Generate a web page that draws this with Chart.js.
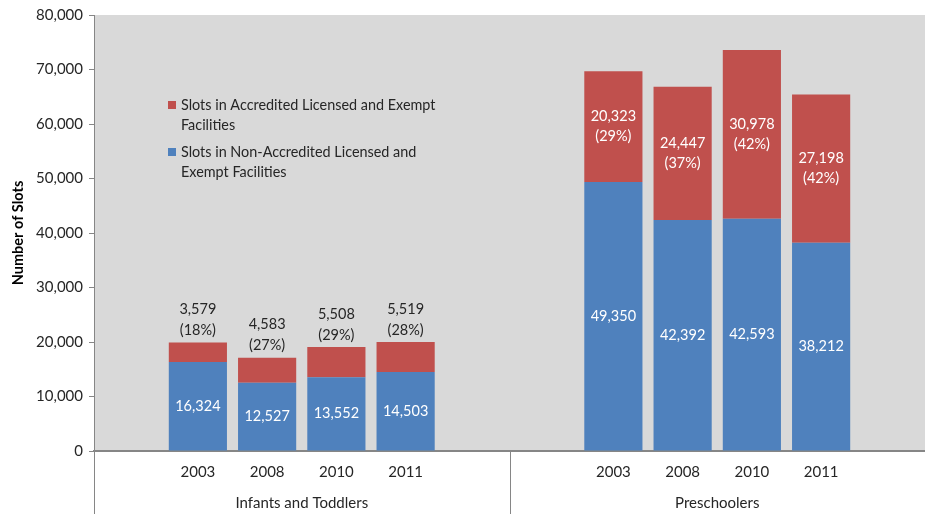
<!DOCTYPE html>
<html>
<head>
<meta charset="utf-8">
<script src="https://cdn.jsdelivr.net/npm/chart.js@4.4.1/dist/chart.umd.min.js"></script>
<style>
  html, body { margin: 0; padding: 0; background: #fff; }
  #wrap { width: 925px; height: 514px; }
</style>
</head>
<body>
<div id="wrap"><canvas id="slotsChart" width="925" height="514"></canvas></div>
<script>
// Values
const years = ['2003', '2008', '2010', '2011'];
const groups = ['Infants and Toddlers', 'Preschoolers'];

const infantsNonAccredited = [16324, 12527, 13552, 14503];
const infantsAccredited = [3579, 4583, 5508, 5519];
const infantsPct = [18, 27, 29, 28];

const preschoolNonAccredited = [49350, 42392, 42593, 38212];
const preschoolAccredited = [20323, 24447, 30978, 27198];
const preschoolPct = [29, 37, 42, 42];

const yTicks = [0, 10000, 20000, 30000, 40000, 50000, 60000, 70000, 80000];

// 12 slots: blank, 4 infant years, 2 blanks, 4 preschool years, blank
const labels = ['', ...years, '', '', ...years, ''];
const blueData = [null, ...infantsNonAccredited, null, null, ...preschoolNonAccredited, null];
const redData = [null, ...infantsAccredited, null, null, ...preschoolAccredited, null];
const pctData = [null, ...infantsPct, null, null, ...preschoolPct, null];

const FONT = 'Lato, "Open Sans", sans-serif';
const TEXT = '#262626';
const AXIS = '#868686';

const fmt = v => v.toLocaleString('en-US');

// grey plot area plus group dividers below the axis
const backdrop = {
    id: 'backdrop',
    beforeDraw(chart) {
        const { ctx, chartArea: a } = chart;
        ctx.save();
        ctx.fillStyle = '#D9D9D9';
        ctx.fillRect(a.left, a.top, a.right - a.left, a.bottom - a.top);
        ctx.restore();
    },
    afterDraw(chart) {
        const { ctx, chartArea: a } = chart;
        const step = (a.right - a.left) / labels.length;
        ctx.save();
        ctx.strokeStyle = AXIS;
        ctx.lineWidth = 1;
        [a.left, a.left + step * 6].forEach(px => {
            ctx.beginPath();
            ctx.moveTo(Math.round(px) + 0.5, a.bottom);
            ctx.lineTo(Math.round(px) + 0.5, chart.height);
            ctx.stroke();
        });
        // group labels
        ctx.fillStyle = TEXT;
        ctx.font = '15px ' + FONT;
        ctx.textAlign = 'center';
        ctx.textBaseline = 'middle';
        ctx.fillText(groups[0], a.left + step * 3, 503);
        ctx.fillText(groups[1], a.left + step * 9, 503);

        // legend inside the plot
        const legend = [
            { color: '#C0504D', lines: ['Slots in Accredited Licensed and Exempt', 'Facilities'], y: 105 },
            { color: '#4F81BD', lines: ['Slots in Non-Accredited Licensed and', 'Exempt Facilities'], y: 152 }
        ];
        ctx.font = '14.4px ' + FONT;
        ctx.textAlign = 'left';
        legend.forEach(item => {
            ctx.fillStyle = item.color;
            ctx.fillRect(168, item.y - 4, 8, 8);
            ctx.fillStyle = TEXT;
            item.lines.forEach((t, i) => ctx.fillText(t, 181, item.y + i * 20));
        });
        ctx.restore();
    }
};

// value labels on the stacks
const valueLabels = {
    id: 'valueLabels',
    afterDatasetsDraw(chart) {
        const { ctx } = chart;
        const blueMeta = chart.getDatasetMeta(0);
        const redMeta = chart.getDatasetMeta(1);
        ctx.save();
        ctx.font = '14.5px ' + FONT;
        ctx.textAlign = 'center';
        ctx.textBaseline = 'middle';
        blueData.forEach((v, i) => {
            if (v == null) return;
            const b = blueMeta.data[i];
            ctx.fillStyle = '#FFFFFF';
            ctx.fillText(fmt(v), b.x, (b.y + b.base) / 2);

            const r = redMeta.data[i];
            const lines = [fmt(redData[i]), '(' + pctData[i] + '%)'];
            if (i < 6) {
                ctx.fillStyle = TEXT;
                ctx.fillText(lines[0], r.x, r.y - 33);
                ctx.fillText(lines[1], r.x, r.y - 12);
            } else {
                const mid = (r.y + r.base) / 2;
                ctx.fillStyle = '#FFFFFF';
                ctx.fillText(lines[0], r.x, mid - 10);
                ctx.fillText(lines[1], r.x, mid + 10);
            }
        });
        ctx.restore();
    }
};

new Chart(document.getElementById('slotsChart').getContext('2d'), {
    type: 'bar',
    data: {
        labels: labels,
        datasets: [
            {
                label: 'Slots in Non-Accredited Licensed and Exempt Facilities',
                data: blueData,
                backgroundColor: '#4F81BD',
                borderWidth: 0,
                barPercentage: 0.84,
                categoryPercentage: 1
            },
            {
                label: 'Slots in Accredited Licensed and Exempt Facilities',
                data: redData,
                backgroundColor: '#C0504D',
                borderWidth: 0,
                barPercentage: 0.84,
                categoryPercentage: 1
            }
        ]
    },
    options: {
        responsive: false,
        animation: false,
        layout: { padding: { top: 14, right: 0, bottom: 0, left: 0 } },
        plugins: {
            legend: { display: false },
            tooltip: { enabled: false }
        },
        scales: {
            x: {
                stacked: true,
                grid: { display: false },
                border: { color: AXIS, width: 2 },
                ticks: {
                    color: TEXT,
                    font: { family: FONT, size: 15 },
                    padding: 4,
                    autoSkip: false,
                    maxRotation: 0
                },
                afterFit(scale) { scale.height = 63; }
            },
            y: {
                stacked: true,
                min: 0,
                max: 80000,
                afterBuildTicks(scale) { scale.ticks = yTicks.map(v => ({ value: v })); },
                grid: { drawOnChartArea: false, color: AXIS, tickLength: 5 },
                border: { color: AXIS, width: 1 },
                ticks: {
                    color: TEXT,
                    font: { family: FONT, size: 15 },
                    padding: 6,
                    callback: v => fmt(v)
                },
                title: {
                    display: true,
                    text: 'Number of Slots',
                    color: '#000',
                    font: { family: FONT, size: 14.5, weight: 'bold' },
                    padding: { top: 10, bottom: 4 }
                },
                afterFit(scale) { scale.width = 94; }
            }
        }
    },
    plugins: [backdrop, valueLabels]
});
</script>
</body>
</html>
